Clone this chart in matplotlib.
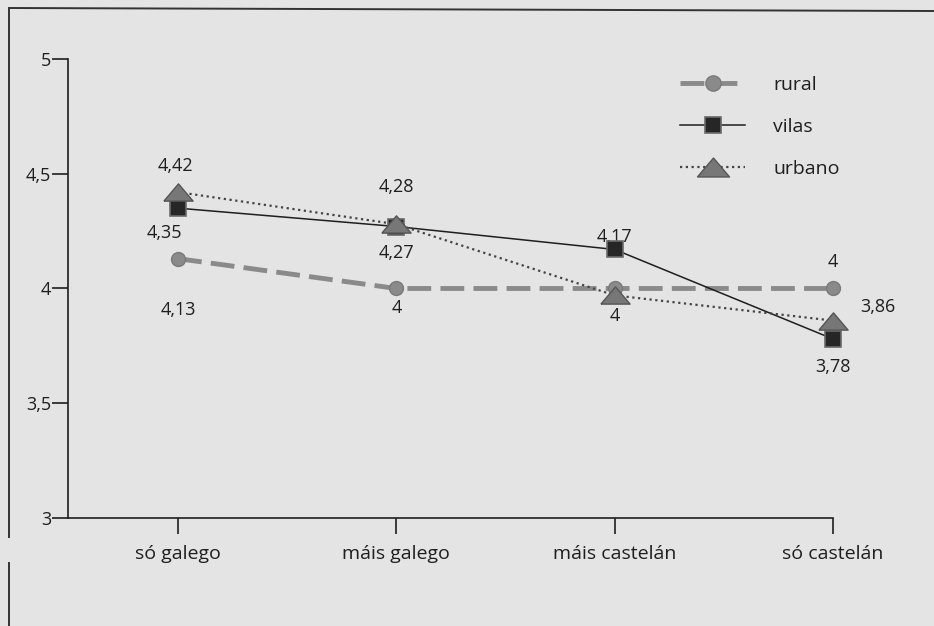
import matplotlib
matplotlib.use("Agg")
import matplotlib.pyplot as plt
from matplotlib.lines import Line2D

plt.rcParams['font.family'] = ['Open Sans', 'DejaVu Sans']

# Categories and mean values per type of municipality
categories = ['só galego', 'máis galego', 'máis castelán', 'só castelán']
rural = [4.13, 4.00, 4.00, 4.00]
vilas = [4.35, 4.27, 4.17, 3.78]
urbano = [4.42, 4.28, 3.97, 3.86]

yticks = [3, 3.5, 4, 4.5, 5]
ytick_labels = ['3', '3,5', '4', '4,5', '5']

bg = '#e4e4e4'
ink = '#1e1e1e'
fig = plt.figure(figsize=(9.34, 6.26), dpi=100, facecolor=bg)
ax = fig.add_axes([0.0728, 0.1725, 0.8191, 0.7333])
ax.set_facecolor('none')

x = list(range(len(categories)))

# flattened triangle marker
flat_tri = [(-1, -0.59), (1, -0.59), (0, 0.59), (-1, -0.59)]

ax.plot(x, rural, linestyle=(0, (4.9, 1.9)), color='#8a8a8a', linewidth=3.5,
        marker='o', markersize=10, markerfacecolor='#8a8a8a',
        markeredgecolor='#7a7a7a', label='rural', zorder=3, clip_on=False)
ax.plot(x, vilas, linestyle='-', color=ink, linewidth=1.1,
        marker='s', markersize=11, markerfacecolor='#262626',
        markeredgecolor='#6a6a6a', markeredgewidth=1.2, label='vilas',
        zorder=4, clip_on=False)
ax.plot(x, urbano, linestyle=(0, (1, 1.6)), color='#444444', linewidth=1.6,
        marker=flat_tri, markersize=21, markerfacecolor='#777777',
        markeredgecolor='#555555', markeredgewidth=1.0, label='urbano',
        zorder=5, clip_on=False)

def fmt(v):
    s = f'{v:.2f}'.rstrip('0').rstrip('.')
    return s.replace('.', ',')

# value labels: (series, index, dx, dy) offsets in points
label_pos = [
    (rural, 0, 0, -37), (rural, 1, 0, -14), (rural, 2, 0, -20), (rural, 3, 0, 19),
    (vilas, 0, -10, -18), (vilas, 1, 0, -19), (vilas, 2, 0, 9), (vilas, 3, 0, -20),
    (urbano, 0, -2, 19), (urbano, 1, 0, 27), (urbano, 3, 32, 10),
]
for series, i, dx, dy in label_pos:
    ax.annotate(fmt(series[i]), (i, series[i]), xytext=(dx, dy),
                textcoords='offset points', ha='center', va='center',
                fontsize=13, color=ink)

ax.set_xlim(-0.504, 3)
ax.set_ylim(3, 5)
ax.set_xticks(x)
ax.set_xticklabels(categories)
ax.set_yticks(yticks)
ax.set_yticklabels(ytick_labels)
ax.tick_params(axis='both', direction='out', length=11.5, width=1.2,
               color=ink, labelsize=13, labelcolor=ink, pad=0.5)
ax.tick_params(axis='x', labelsize=14, pad=8)

for side in ['top', 'right']:
    ax.spines[side].set_visible(False)
for side in ['left', 'bottom']:
    ax.spines[side].set_linewidth(1.2)
    ax.spines[side].set_color(ink)

ax.legend(loc='upper left', bbox_to_anchor=(0.79, 0.98), frameon=False,
          fontsize=14, handlelength=3.35, handletextpad=1.45,
          labelspacing=1.23, labelcolor=ink, borderaxespad=0,
          markerscale=1.1)

# scanned frame around the figure
frame_kw = dict(color='#333333', linewidth=1.4, transform=fig.transFigure)
fig.add_artist(Line2D([10 / 934, 1.0], [1 - 8 / 626, 1 - 11 / 626], **frame_kw))
fig.add_artist(Line2D([9 / 934, 9 / 934], [1 - 8 / 626, 1 - 537 / 626], **frame_kw))
fig.add_artist(Line2D([9 / 934, 9 / 934], [1 - 563 / 626, 0.0], **frame_kw))

fig.savefig('out.png', dpi=100, facecolor=bg)
